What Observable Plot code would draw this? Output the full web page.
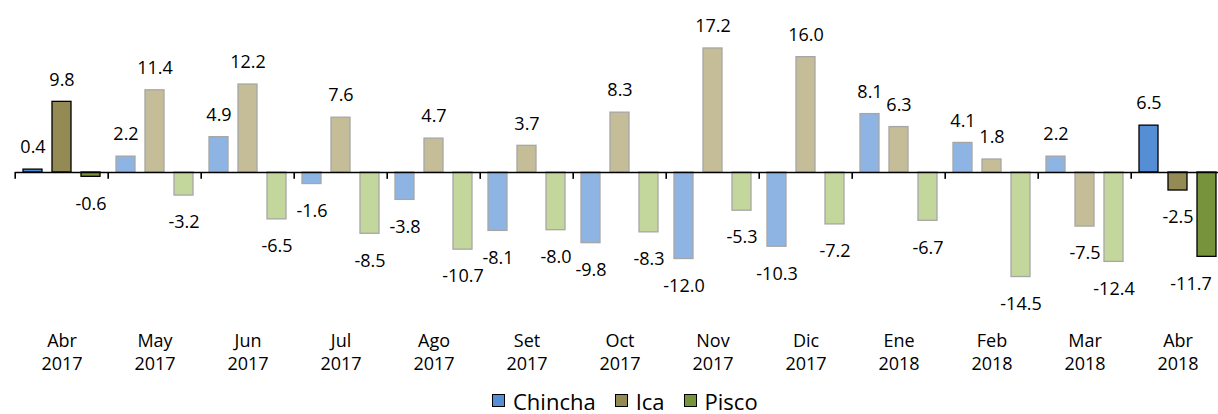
<!DOCTYPE html>
<html>
<head>
<meta charset="utf-8">
<script src="https://cdn.jsdelivr.net/npm/d3@7"></script>
<script src="https://cdn.jsdelivr.net/npm/@observablehq/plot@0.6"></script>
<style>
  html, body { margin: 0; padding: 0; background: #fff; overflow: hidden; }
  #chart svg { display: block; }
  #legend { height: 30px; position: relative; font-family: "Open Sans", sans-serif; font-size: 22px; color: #000; }
  #legend .items { position: absolute; left: 492px; top: 3px; display: flex; align-items: center; height: 27px; }
  #legend .item { display: flex; align-items: center; margin-right: 19px; }
  #legend .sw { width: 11px; height: 11px; border: 1px solid #000; margin-right: 8px; }
</style>
</head>
<body>
<div id="chart"></div>
<div id="legend"><div class="items"></div></div>
<script>
// ---- data ----
const monthNames = ["Abr", "May", "Jun", "Jul", "Ago", "Set", "Oct", "Nov", "Dic", "Ene", "Feb", "Mar", "Abr"];
const years = ["2017", "2017", "2017", "2017", "2017", "2017", "2017", "2017", "2017", "2018", "2018", "2018", "2018"];
const series = ["Chincha", "Ica", "Pisco"];
const chincha = [0.4, 2.2, 4.9, -1.6, -3.8, -8.1, -9.8, -12.0, -10.3, 8.1, 4.1, 2.2, 6.5];
const ica = [9.8, 11.4, 12.2, 7.6, 4.7, 3.7, 8.3, 17.2, 16.0, 6.3, 1.8, -7.5, -2.5];
const pisco = [-0.6, -3.2, -6.5, -8.5, -10.7, -8.0, -8.3, -5.3, -7.2, -6.7, -14.5, -12.4, -11.7];

// ---- styles ----
const darkColors = {Chincha: "#558ED5", Ica: "#948A54", Pisco: "#77933C"};
const lightColors = {Chincha: "#8EB4E3", Ica: "#C4BD97", Pisco: "#C3D69B"};

const keys = monthNames.map((m, i) => `${m} ${years[i]}`);
const valuesBySeries = {Chincha: chincha, Ica: ica, Pisco: pisco};
const rows = [];
keys.forEach((k, i) => {
  series.forEach(s => {
    rows.push({month: k, series: s, value: valuesBySeries[s][i], hi: i === 0 || i === keys.length - 1});
  });
});

const fmt = v => v.toFixed(1); // ASCII hyphen-minus as in the original
const labelOf = Object.fromEntries(keys.map((k, i) => [k, `${monthNames[i]}\n${years[i]}`]));

// the last bar's label sits at the right edge; it is nudged left like in the original
const lastKey = keys[keys.length - 1];
const isEdge = d => d.month === lastKey && d.series === series[series.length - 1];

const chart = Plot.plot({
  width: 1218,
  height: 384,
  marginTop: 0,
  marginBottom: 59,
  marginLeft: 0,
  marginRight: 0,
  style: {fontFamily: "'Open Sans', sans-serif", background: "#fff", color: "#000"},
  fx: {domain: keys, range: [11.2, 1228.8], padding: 0, axis: null},
  x: {domain: series, paddingInner: 0.333, paddingOuter: 0.228, axis: null},
  y: {domain: [-20, 20], range: [316.2, 27.8], axis: null},
  marks: [
    Plot.barY(rows, {
      fx: "month", x: "series", y: "value",
      fill: d => d.hi ? darkColors[d.series] : lightColors[d.series],
      stroke: d => d.hi ? "#000000" : "#A6A6A6",
      strokeWidth: 1.3
    }),
    Plot.ruleY([0], {stroke: "#000", strokeWidth: 1.6}),
    Plot.ruleX(keys, {fx: d => d, x: null, y1: 0, y2: -0.95, dx: -46.8, stroke: "#000", strokeWidth: 1.6}),
    Plot.text(rows.filter(d => d.value >= 0), {
      fx: "month", x: "series", y: "value", text: d => fmt(d.value),
      dy: -22, fontSize: 18, fill: "#000"
    }),
    Plot.text(rows.filter(d => d.value < 0 && !isEdge(d)), {
      fx: "month", x: "series", y: "value", text: d => fmt(d.value),
      dy: 27, fontSize: 18, fill: "#000"
    }),
    Plot.text(rows.filter(d => d.value < 0 && isEdge(d)), {
      fx: "month", x: "series", y: "value", text: d => fmt(d.value),
      dy: 27, dx: -16, fontSize: 18, fill: "#000"
    }),
    Plot.axisFx({
      anchor: "bottom", tickSize: 0, tickPadding: 5, label: null,
      tickFormat: d => labelOf[d], fontSize: 18, lineHeight: 1.28, fill: "#000"
    })
  ]
});
document.getElementById("chart").appendChild(chart);

const items = document.querySelector("#legend .items");
series.forEach(s => {
  const it = document.createElement("div");
  it.className = "item";
  const sw = document.createElement("span");
  sw.className = "sw";
  sw.style.background = darkColors[s];
  const tx = document.createElement("span");
  tx.textContent = s;
  it.appendChild(sw);
  it.appendChild(tx);
  items.appendChild(it);
});
</script>
</body>
</html>
